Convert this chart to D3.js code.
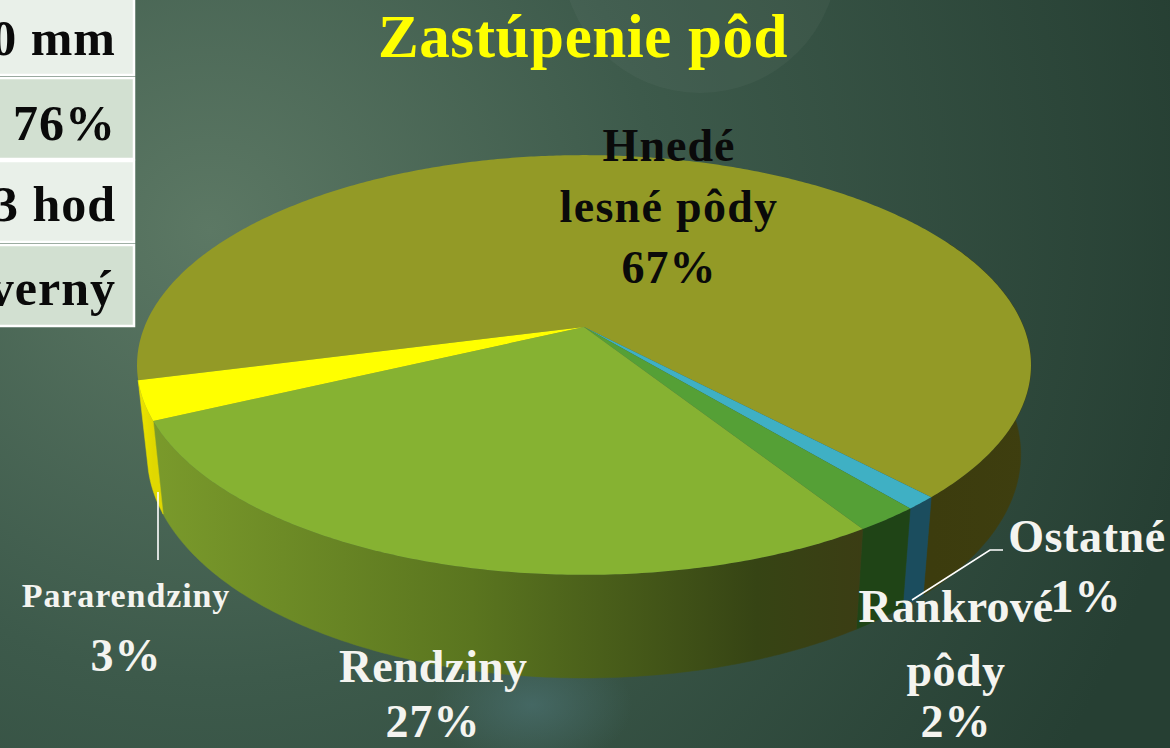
<!DOCTYPE html>
<html>
<head>
<meta charset="utf-8">
<script src="https://cdn.jsdelivr.net/npm/d3@7"></script>
<style>
  html, body { margin: 0; padding: 0; background: #2f4a3c; overflow: hidden; }
  svg { display: block; }
  text { font-family: "Liberation Serif", serif; font-weight: bold; }
</style>
</head>
<body>
<svg width="1170" height="748"></svg>
<script>
const soils = ['Hnedé lesné pôdy', 'Ostatné', 'Rankrové pôdy', 'Rendziny', 'Pararendziny']
const shares = [67, 1, 2, 27, 3]
const topColors = ['#939a26', '#3fb0c4', '#55a036', '#86b232', '#ffff00']
const tableRows = ['0 mm', '76%', '3 hod', 'verný']

let svg = d3.select('svg')
let width = +svg.attr('width')
let height = +svg.attr('height')
let defs = svg.append('defs')

// background
let bg = defs.append('radialGradient').attr('id', 'bg')
  .attr('gradientUnits', 'userSpaceOnUse')
  .attr('cx', 210).attr('cy', 230).attr('r', 1000)
bg.append('stop').attr('offset', 0).attr('stop-color', '#5c7864')
bg.append('stop').attr('offset', 0.45).attr('stop-color', '#3d5a4b')
bg.append('stop').attr('offset', 1).attr('stop-color', '#263f33')
let glow = defs.append('radialGradient').attr('id', 'glow')
glow.append('stop').attr('offset', 0).attr('stop-color', '#4a7070').attr('stop-opacity', 0.7)
glow.append('stop').attr('offset', 1).attr('stop-color', '#4a7070').attr('stop-opacity', 0)

svg.append('rect').attr('width', width).attr('height', height).attr('fill', 'url(#bg)')
svg.append('circle').attr('cx', 700).attr('cy', -45).attr('r', 138)
  .attr('fill', '#fff').attr('opacity', 0.035)
svg.append('ellipse').attr('cx', 532).attr('cy', 705).attr('rx', 100).attr('ry', 65)
  .attr('fill', 'url(#glow)')

// table in the corner
let table = svg.append('g')
tableRows.forEach(function (t, i) {
  let y0 = [-6, 78, 161, 245][i]
  table.append('rect').attr('x', -5).attr('y', y0).attr('width', 139).attr('height', 81)
    .attr('fill', i % 2 ? '#d2e0d1' : '#e9f0e9').attr('stroke', '#fff').attr('stroke-width', 2.5)
  table.append('text').attr('x', 116).attr('y', [55, 140, 221, 305][i])
    .attr('text-anchor', 'end').attr('font-size', 50).attr('letter-spacing', 1)
    .attr('fill', '#0a0a0a').text(t)
})

// tilted disk: d3.pie gives the angles, project() puts them on screen
const cx = 584, cy = 327, rx = 439.6, ry = 203, k = 0.181
const start = 255.5 * Math.PI / 180

let pie = d3.pie().sort(null).startAngle(start).endAngle(start + 2 * Math.PI)
let arcs = pie(shares)

function project(a, r) {
  let u = Math.sin(a) * r
  let v = -Math.cos(a) * r
  let s = 1 / (1 - k * v)
  return [cx + rx * u * s, cy + ry * v * s]
}
function lower(p) {
  return [cx + 0.977 * (p[0] - cx), cy + 87 + 1.065 * (p[1] - cy)]
}
function rim(a0, a1) {
  let n = Math.max(2, Math.ceil(Math.abs(a1 - a0) / 0.01))
  return d3.range(n + 1).map(function (i) {
    return project(a0 + (a1 - a0) * i / n, 1)
  })
}
let line = d3.line().curve(d3.curveLinear)

// walls
const wallStops = [
  [['0', '#3c3c0e'], ['1', '#3e3e0f']],
  [['0', '#1b4d5e'], ['1', '#1b4d5e']],
  [['0', '#1f4416'], ['1', '#1f4416']],
  [['0', '#7a9a2b'], ['0.45', '#5a751f'], ['0.85', '#364414'], ['1', '#3b3d14']],
  [['0', '#ece400'], ['1', '#e0d800']]
]
let walls = svg.append('g')
arcs.forEach(function (d, i) {
  let a0 = d.startAngle, a1 = d.endAngle
  // only the part turned to the viewer
  if (i === 0) { a0 = 2 * Math.PI + 1.1; a1 = d.endAngle }
  let top = rim(a0, a1)
  let bottom = top.map(lower).reverse()
  let xs = top.map(function (p) { return p[0] })
  let grad = defs.append('linearGradient').attr('id', 'wall' + i)
    .attr('gradientUnits', 'userSpaceOnUse')
    .attr('x1', d3.min(xs)).attr('x2', d3.max(xs)).attr('y1', 0).attr('y2', 0)
  wallStops[i].forEach(function (s) {
    grad.append('stop').attr('offset', s[0]).attr('stop-color', s[1])
  })
  walls.append('path').attr('d', line(top.concat(bottom)) + 'Z')
    .attr('fill', 'url(#wall' + i + ')')
    .attr('stroke', 'url(#wall' + i + ')').attr('stroke-width', 0.5)
})

// top faces
let faces = svg.append('g')
arcs.forEach(function (d, i) {
  let pts = [[cx, cy]].concat(rim(d.startAngle, d.endAngle))
  faces.append('path').attr('d', line(pts) + 'Z').attr('fill', topColors[i])
})

// leader lines
svg.append('path').attr('d', 'M158,492V560').attr('stroke', '#fff').attr('stroke-width', 1.6).attr('fill', 'none')
svg.append('path').attr('d', 'M1003,550H990L912,600').attr('stroke', '#fff').attr('stroke-width', 1.6).attr('fill', 'none')

// labels
function label(x, y, size, fill, t, spacing) {
  svg.append('text').attr('x', x).attr('y', y).attr('text-anchor', 'middle')
    .attr('font-size', size).attr('letter-spacing', spacing).attr('fill', fill).text(t)
}
label(583, 57, 61, '#ffff00', 'Zastúpenie pôd', 0.6)
label(669, 161, 46, '#0a0a0a', 'Hnedé', 1)
label(669, 222, 46, '#0a0a0a', 'lesné pôdy', 1.3)
label(669, 283, 46, '#0a0a0a', shares[0] + '%', 1)
label(1087, 552, 46, '#f4f4f0', soils[1], 0.6)
label(1086, 612, 46, '#f4f4f0', shares[1] + '%', 1)
label(956, 622, 46, '#f4f4f0', 'Rankrové', 0.2)
label(956, 686, 46, '#f4f4f0', 'pôdy', 0.5)
label(956, 737, 46, '#f4f4f0', shares[2] + '%', 1)
label(433, 682, 46, '#f4f4f0', soils[3], 0.2)
label(433, 737, 46, '#f4f4f0', shares[3] + '%', 1)
label(126, 607, 34, '#f4f4f0', soils[4], 0.9)
label(126, 671, 46, '#f4f4f0', shares[4] + '%', 1)
</script>
</body>
</html>
